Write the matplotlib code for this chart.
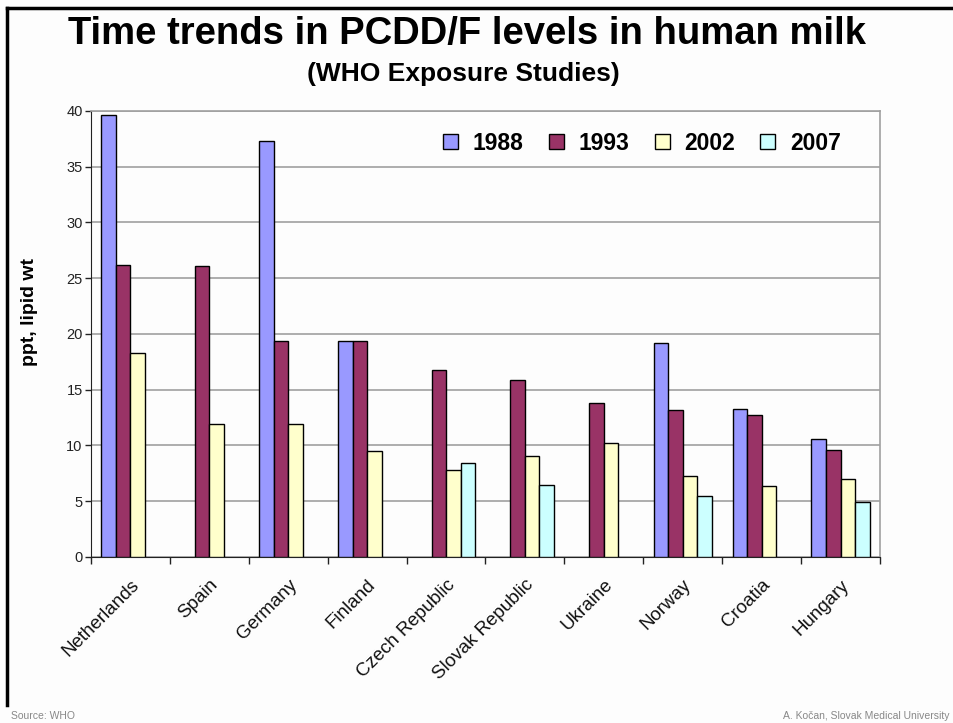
import numpy as np
import matplotlib
matplotlib.use("Agg")
import matplotlib.pyplot as plt
from matplotlib.lines import Line2D

plt.rcParams['font.family'] = ['Liberation Sans', 'DejaVu Sans']

countries = ["Netherlands", "Spain", "Germany", "Finland", "Czech Republic",
             "Slovak Republic", "Ukraine", "Norway", "Croatia", "Hungary"]
years = ["1988", "1993", "2002", "2007"]
nan = np.nan
v1988 = [39.6, nan, 37.3, 19.35, nan, nan, nan, 19.2, 13.3, 10.55]
v1993 = [26.2, 26.1, 19.35, 19.35, 16.75, 15.9, 13.8, 13.2, 12.7, 9.6]
v2002 = [18.3, 11.95, 11.95, 9.5, 7.8, 9.1, 10.25, 7.3, 6.4, 7.0]
v2007 = [nan, nan, nan, nan, 8.4, 6.5, nan, 5.5, nan, 4.9]
series = [v1988, v1993, v2002, v2007]
colors = ["#9999FF", "#993366", "#FFFFCC", "#CCFFFF"]

fig = plt.figure(figsize=(9.54, 7.23), dpi=100)
fig.patch.set_facecolor("#fdfdfd")
ax = fig.add_axes([0.0954, 0.2296, 0.827, 0.617])
ax.set_facecolor("#fdfdfd")

bw = 0.184
off = (1 - 4 * bw) / 2
x = np.arange(len(countries))
handles = []
for k, (vals, c, yr) in enumerate(zip(series, colors, years)):
    vals = np.array(vals, dtype=float)
    m = ~np.isnan(vals)
    ax.bar(x[m] + off + k * bw, vals[m], width=bw, align='edge',
           color=c, edgecolor='black', linewidth=1.0, zorder=3)
    handles.append(plt.Rectangle((0, 0), 1, 1, facecolor=c,
                                 edgecolor='black', linewidth=1.0, label=yr))

ax.set_xlim(0, len(countries))
ax.set_ylim(0, 40)
ax.set_yticks(np.arange(0, 41, 5))
ax.yaxis.grid(True, color='#a0a0a0', linewidth=1.2, zorder=0)
ax.tick_params(axis='y', length=4, width=1, color='#222222',
               labelsize=10.5, labelcolor='#222222', pad=2)

ax.set_xticks(np.arange(0, len(countries) + 1))
ax.set_xticklabels([])
ax.tick_params(axis='x', which='major', length=5, width=1, color='#222222')
ax.set_xticks(x + 0.5, minor=True)
ax.set_xticklabels(countries, minor=True, rotation=45, ha='right',
                   rotation_mode='anchor', fontsize=13.5, color='#111111')
ax.tick_params(axis='x', which='minor', length=0, pad=14)

for s in ['top', 'right']:
    ax.spines[s].set_color('#a0a0a0')
    ax.spines[s].set_linewidth(1.2)
ax.spines['left'].set_color('#222222')
ax.spines['bottom'].set_color('#222222')

ax.set_ylabel("ppt, lipid wt", fontsize=14, fontweight='bold')
ax.yaxis.set_label_coords(-0.067, 0.55)

leg = fig.legend(handles=handles, loc='center', ncol=4,
                 bbox_to_anchor=(0.673, 0.802), frameon=False,
                 prop={'size': 16.5, 'weight': 'bold'},
                 handlelength=0.65, handleheight=0.65,
                 handletextpad=0.65, columnspacing=1.1)

fig.text(0.489, 0.953, "Time trends in PCDD/F levels in human milk",
         ha='center', va='center', fontsize=27.5, fontweight='bold')
fig.text(0.486, 0.897, "(WHO Exposure Studies)",
         ha='center', va='center', fontsize=19, fontweight='bold')

fig.text(0.012, 0.003, "Source: WHO", ha='left', va='bottom',
         fontsize=7.5, color='#888888')
fig.text(0.995, 0.003, "A. Ko\u010dan, Slovak Medical University",
         ha='right', va='bottom', fontsize=7.5, color='#888888')

# slide frame
fig.add_artist(Line2D([0.0073, 1.0], [0.9889, 0.9889], color='black',
                      linewidth=2.5, transform=fig.transFigure))
fig.add_artist(Line2D([0.0073, 0.0073], [0.9889, 0.025], color='black',
                      linewidth=2.5, transform=fig.transFigure))

fig.savefig("out.png", dpi=100, facecolor=fig.get_facecolor())
